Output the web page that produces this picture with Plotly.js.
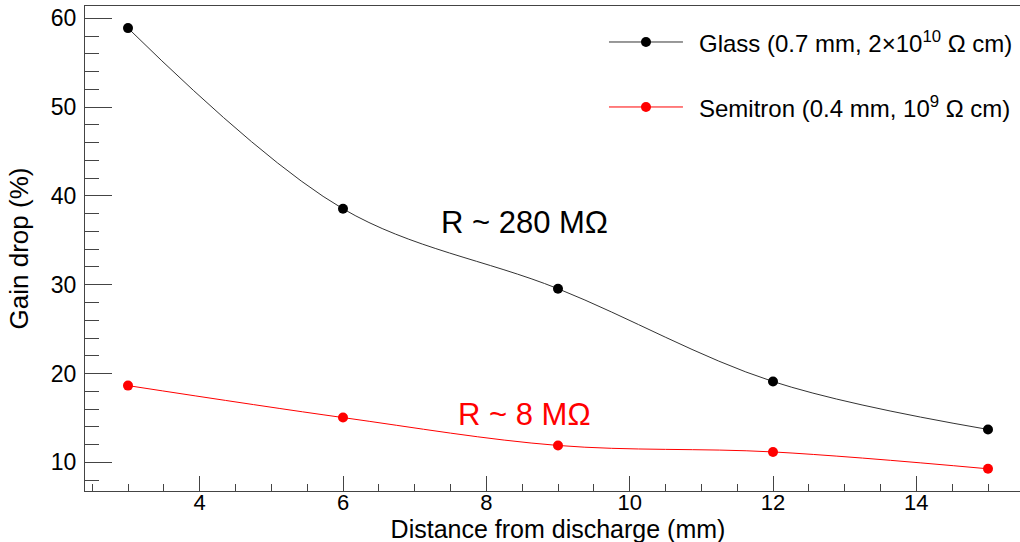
<!DOCTYPE html>
<html>
<head>
<meta charset="utf-8">
<script src="https://cdn.plot.ly/plotly-3.0.1.min.js"></script>
<style>
html, body { margin: 0; padding: 0; overflow: hidden; background: #fff; }
#chart { width: 1040px; height: 546px; }
</style>
</head>
<body>
<div id="chart"></div>
<script>
const distance = [3, 6, 9, 12, 15];
const glassDrop = [58.9, 38.55, 29.55, 19.1, 13.7];
const semitronDrop = [18.64, 15.04, 11.9, 11.17, 9.27];
const seriesNames = ["Glass (0.7 mm, 2\u00d710<sup>10</sup> \u03a9 cm)", "Semitron (0.4 mm, 10<sup>9</sup> \u03a9 cm)"];
const seriesColors = ['#000000', '#ff0000'];
const lineColors = ['#333333', '#ff0000'];
const labels = ["R ~ 280 M\u03a9", "R ~ 8 M\u03a9"];

const fontFam = '"Liberation Sans", Arial, Helvetica, sans-serif';

const traces = [
  {
    x: distance, y: glassDrop, name: seriesNames[0], showlegend: false,
    mode: 'lines+markers', type: 'scatter',
    line: { color: lineColors[0], width: 1, shape: 'spline', smoothing: 1 },
    marker: { color: seriesColors[0], size: 10, symbol: 'circle' }
  },
  {
    x: distance, y: semitronDrop, name: seriesNames[1], showlegend: false,
    mode: 'lines+markers', type: 'scatter',
    line: { color: lineColors[1], width: 1, shape: 'spline', smoothing: 1 },
    marker: { color: seriesColors[1], size: 10, symbol: 'circle' }
  }
];

// Legend drawn by hand (long sample line as in the reference)
const legendRowsY = [0.9258, 0.7918];
const legendLineX = [0.5539, 0.6321];
const legendMarkX = 0.5930;
const legendTextX = 0.6469;
const shapes = [];
const annotations = [];
seriesNames.forEach((nm, i) => {
  shapes.push({ type: 'line', xref: 'paper', yref: 'paper',
    x0: legendLineX[0], x1: legendLineX[1], y0: legendRowsY[i], y1: legendRowsY[i],
    line: { color: lineColors[i], width: 1 } });
  shapes.push({ type: 'circle', xref: 'paper', yref: 'paper',
    xsizemode: 'pixel', ysizemode: 'pixel', xanchor: legendMarkX, yanchor: legendRowsY[i],
    x0: -5, x1: 5, y0: -5, y1: 5,
    fillcolor: seriesColors[i], line: { color: seriesColors[i], width: 0 } });
  annotations.push({ xref: 'paper', yref: 'paper', x: legendTextX, y: legendRowsY[i],
    xanchor: 'left', yanchor: 'middle', text: nm, showarrow: false,
    font: { size: 24, color: '#000', family: fontFam } });
});
annotations.push({ x: 8.53, y: 37.06, xref: 'x', yref: 'y', text: labels[0], showarrow: false,
  font: { size: 31, color: '#000', family: fontFam }, xanchor: 'center', yanchor: 'middle' });
annotations.push({ x: 8.53, y: 15.33, xref: 'x', yref: 'y', text: labels[1], showarrow: false,
  font: { size: 31, color: '#ff0000', family: fontFam }, xanchor: 'center', yanchor: 'middle' });

const layout = {
  width: 1040, height: 546,
  margin: { l: 85, r: 9, t: 6, b: 55 },
  paper_bgcolor: '#ffffff', plot_bgcolor: '#ffffff',
  font: { family: fontFam, size: 22, color: '#000' },
  showlegend: false,
  xaxis: {
    range: [2.4, 15.6],
    title: { text: 'Distance from discharge (mm)', font: { size: 25 }, standoff: 6 },
    tickmode: 'linear', tick0: 0, dtick: 2,
    ticks: 'inside', ticklen: 15, tickwidth: 1, tickcolor: '#444',
    minor: { tickmode: 'linear', tick0: 0, dtick: 0.5, ticks: 'inside', ticklen: 7, tickwidth: 1, tickcolor: '#444', showgrid: false },
    showline: true, linecolor: '#444', linewidth: 1, mirror: true,
    showgrid: false, zeroline: false,
    tickfont: { size: 22 }, ticklabelstandoff: -8
  },
  yaxis: {
    range: [6.77, 61.39],
    title: { text: 'Gain drop (%)', font: { size: 26 }, standoff: 14 },
    tickmode: 'linear', tick0: 0, dtick: 10,
    ticks: 'inside', ticklen: 27, tickwidth: 1, tickcolor: '#444',
    minor: { tickmode: 'linear', tick0: 0, dtick: 2, ticks: 'inside', ticklen: 14, tickwidth: 1, tickcolor: '#444', showgrid: false },
    showline: true, linecolor: '#444', linewidth: 1, mirror: true,
    showgrid: false, zeroline: false,
    tickfont: { size: 23 }, ticklabelstandoff: 3
  },
  shapes: shapes,
  annotations: annotations
};

Plotly.newPlot('chart', traces, layout, { displayModeBar: false, staticPlot: true });
</script>
</body>
</html>
